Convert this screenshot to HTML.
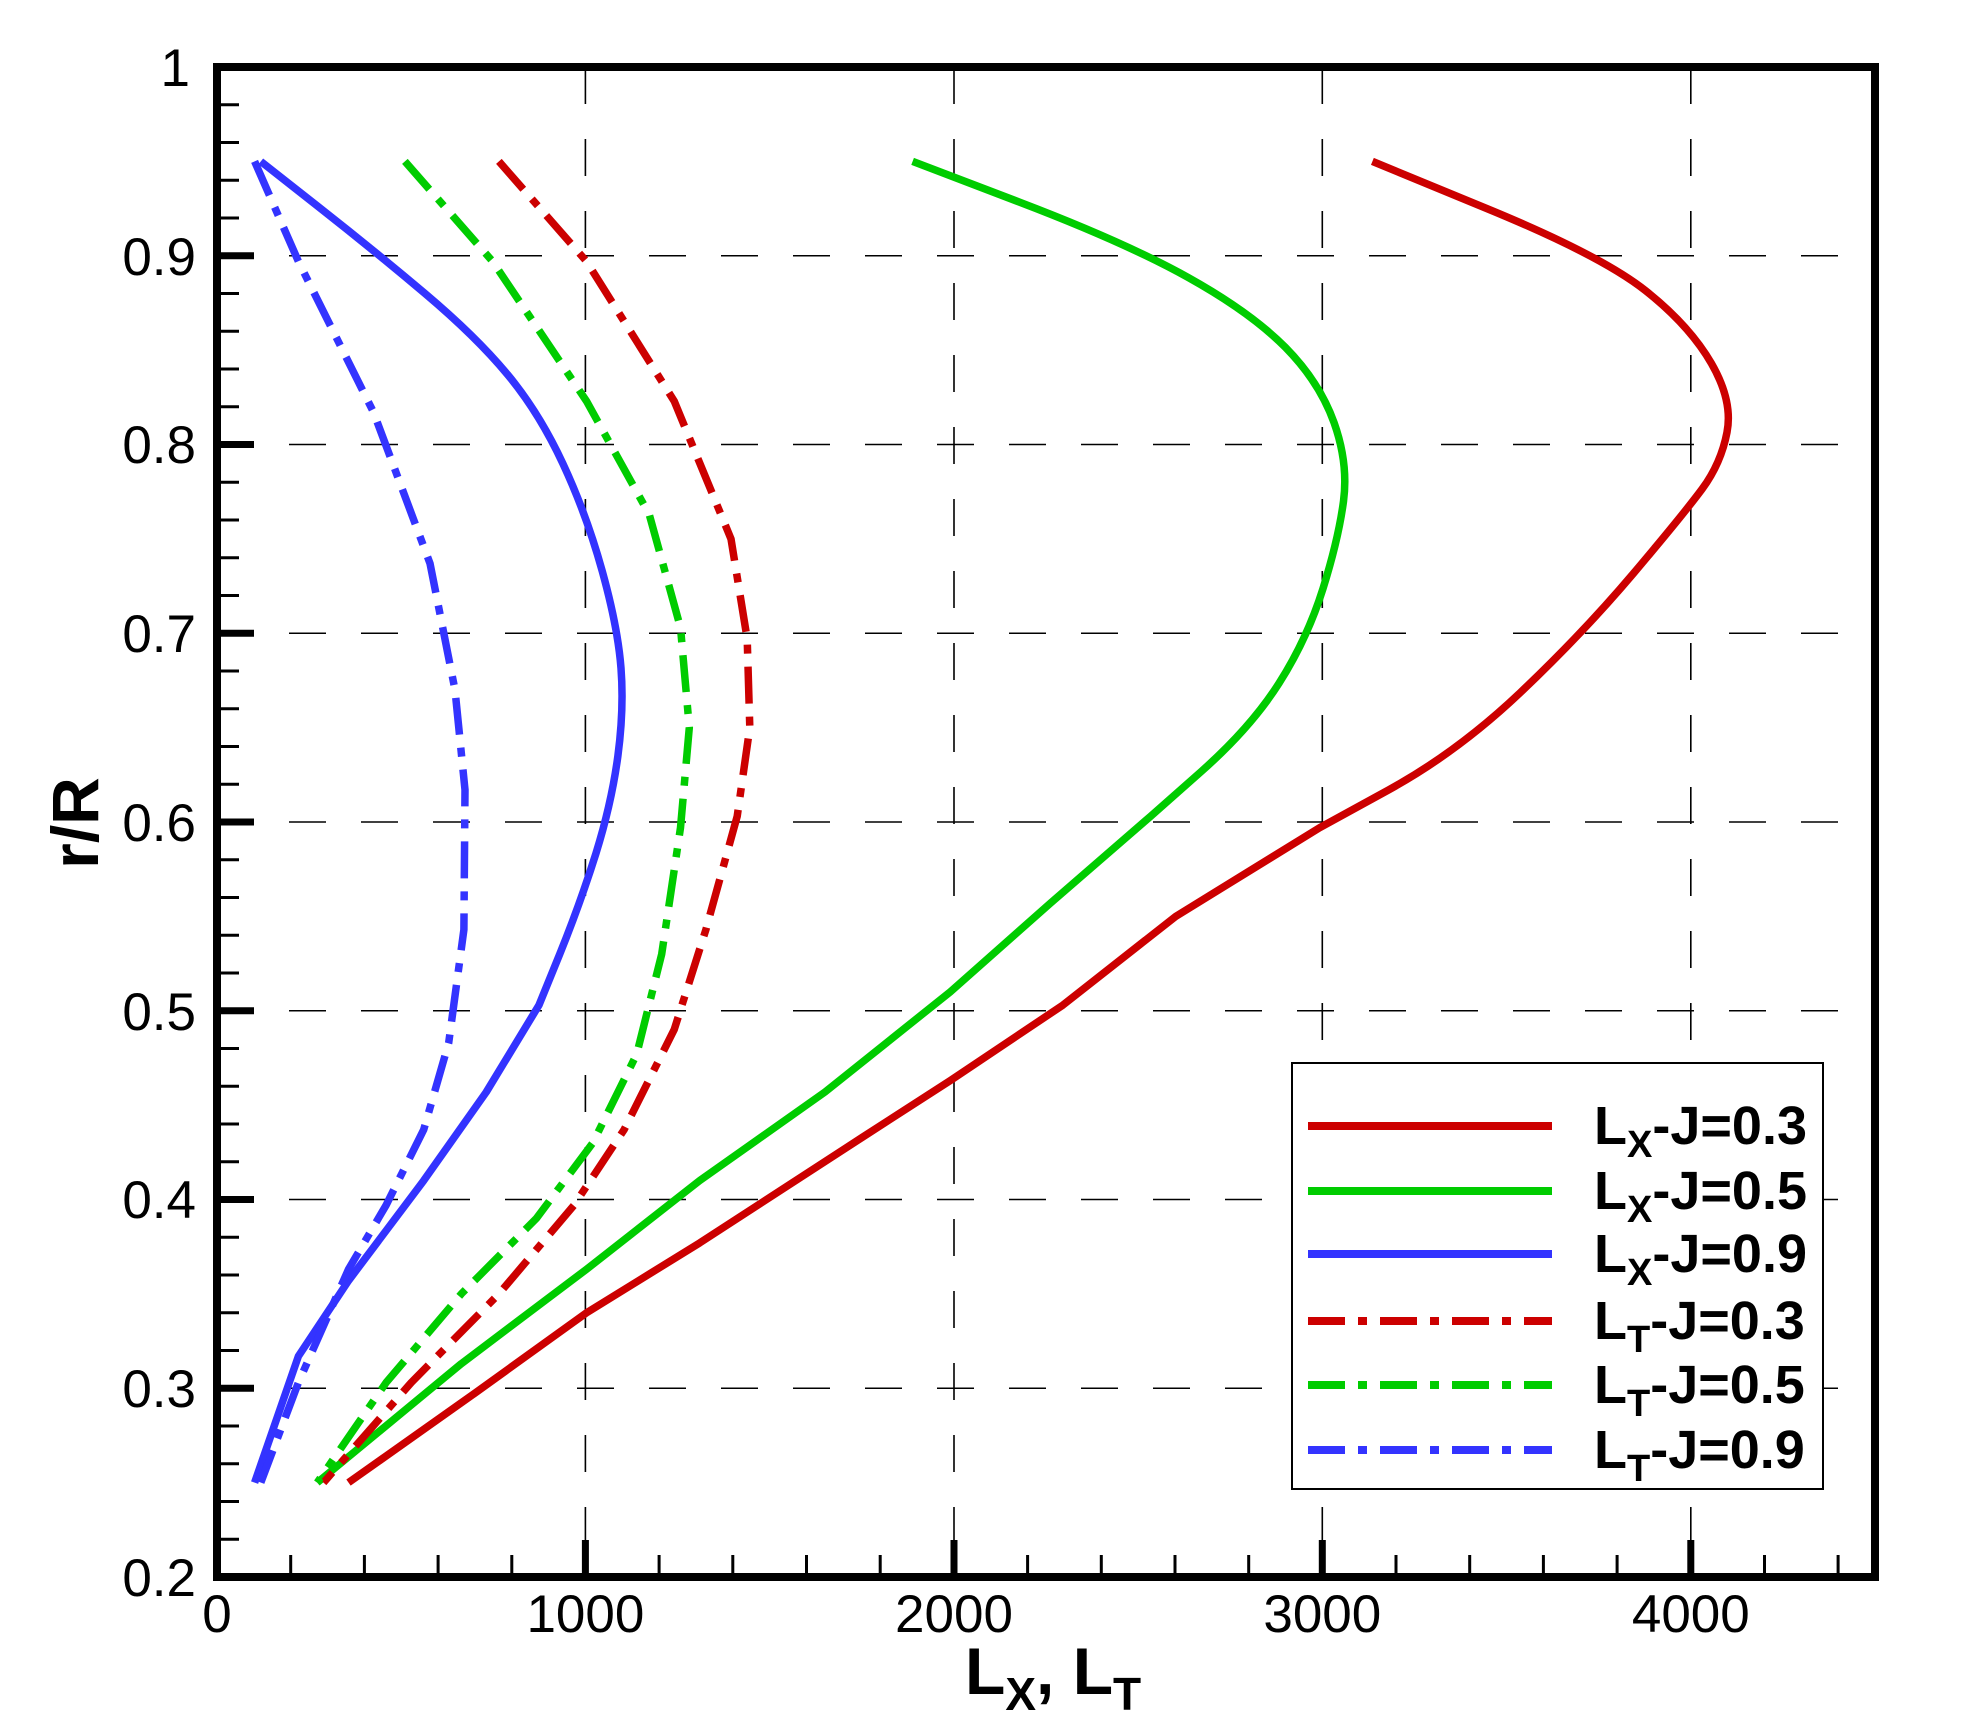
<!DOCTYPE html>
<html><head><meta charset="utf-8"><style>
html,body{margin:0;padding:0;background:#fff;}
svg{display:block;font-family:"Liberation Sans",Arial,sans-serif;}
</style></head><body>
<svg width="1964" height="1725" viewBox="0 0 1964 1725" xmlns="http://www.w3.org/2000/svg">
<rect width="1964" height="1725" fill="#fff"/>
<!-- grid -->
<g stroke="#000" stroke-width="1.6" stroke-dasharray="37 35" fill="none">
<line x1="585.4" y1="67" x2="585.4" y2="1577"/>
<line x1="954" y1="67" x2="954" y2="1577"/>
<line x1="1322.3" y1="67" x2="1322.3" y2="1577"/>
<line x1="1690.8" y1="67" x2="1690.8" y2="1577"/>
<line x1="217" y1="1388.25" x2="1875" y2="1388.25"/>
<line x1="217" y1="1199.5" x2="1875" y2="1199.5"/>
<line x1="217" y1="1010.75" x2="1875" y2="1010.75"/>
<line x1="217" y1="822" x2="1875" y2="822"/>
<line x1="217" y1="633.25" x2="1875" y2="633.25"/>
<line x1="217" y1="444.5" x2="1875" y2="444.5"/>
<line x1="217" y1="255.75" x2="1875" y2="255.75"/>
</g>
<!-- curves -->
<g fill="none" stroke-width="7.5" stroke-linejoin="round">
<path stroke="#cc0000" d="M1372.4,161.4 L1487,208.6 Q1601.6,255.75 1645.6,290.7 Q1689.6,325.6 1711.4,363.4 Q1733.1,401.1 1727,432.3 Q1721,463.4 1702.2,488.9 Q1683.4,514.3 1633.1,573.8 Q1582.8,633.25 1520.2,692.7 Q1457.5,752.1 1388.6,789.9 L1319.7,827.7 1175.7,916.4 1062.9,1005.1 950.2,1080.6 862.5,1137.2 699.7,1242.9 586.5,1312.8 473.8,1393.9 348.5,1482.6"/>
<path stroke="#00cc00" d="M912.6,161.4 L1019.1,202 Q1125.6,242.6 1188.2,277.5 Q1250.8,312.4 1285.3,347.3 Q1319.7,382.2 1334.1,422.8 Q1348.5,463.4 1343.5,501.2 Q1338.5,538.9 1322.9,588.9 Q1307.2,638.9 1279,683.3 Q1250.8,727.6 1200.7,772 L1150.6,816.3 1050.4,903.2 950.2,991.9 825,1092 699.7,1180.6 586.5,1269.3 461.3,1363.7 317.2,1482.6"/>
<path stroke="#3333ff" d="M260.8,161.4 L317.2,205.8 Q373.6,250.1 425,293.5 Q476.4,336.9 507.7,374.7 Q539,412.4 562.8,463.4 Q586.5,514.3 602.2,571 Q617.9,627.6 621,668.2 Q624.1,708.75 617.9,755.9 Q611.6,803.1 596,853.2 Q580.3,903.2 559.7,954.2 L539,1005.1 486.3,1092 423.7,1180.6 348.5,1280.7 298.4,1356.2 254.6,1482.6"/>
<polyline stroke="#cc0000" stroke-dasharray="37 13 9 13" points="498.9,161.4 586.5,261.4 674.2,401.1 731,538.9 747.2,638.9 749.8,727.6 737.2,816.3 705.9,929.6 674.2,1029.6 624.1,1129.7 574,1205.2 498.9,1293.9 411.2,1382.6 323.5,1482.6"/>
<polyline stroke="#00cc00" stroke-dasharray="37 13 9 13" points="404.9,161.4 492.6,261.4 586.5,401.1 649.2,514.3 680.5,627.6 689.3,727.6 680.5,827.7 661.7,954.1 636.7,1054.2 592.8,1142.9 536.4,1218.4 461.3,1293.9 386.1,1382.6 317.2,1482.6"/>
<polyline stroke="#3333ff" stroke-dasharray="37 13 9 13" points="254.6,161.4 298.4,261.4 373.6,412.4 430,563.4 455,689.9 465,789.9 463.9,929.6 448.7,1042.8 423.7,1129.7 386.1,1205.2 348.5,1269.3 298.4,1382.6 260.8,1482.6"/>
</g>
<!-- ticks -->
<path stroke="#000" stroke-width="3" fill="none" d="
M217 1539.25h22M217 1501.5h22M217 1463.75h22M217 1426h22
M217 1350.5h22M217 1312.75h22M217 1275h22M217 1237.25h22
M217 1161.75h22M217 1124h22M217 1086.25h22M217 1048.5h22
M217 973h22M217 935.25h22M217 897.5h22M217 859.75h22
M217 784.25h22M217 746.5h22M217 708.75h22M217 671h22
M217 595.5h22M217 557.75h22M217 520h22M217 482.25h22
M217 406.75h22M217 369h22M217 331.25h22M217 293.5h22
M217 218h22M217 180.25h22M217 142.5h22M217 104.75h22
M290.7 1577v-22M364.4 1577v-22M438.1 1577v-22M511.8 1577v-22
M659.1 1577v-22M732.8 1577v-22M806.5 1577v-22M880.2 1577v-22
M1027.6 1577v-22M1101.3 1577v-22M1175 1577v-22M1248.7 1577v-22
M1396 1577v-22M1469.7 1577v-22M1543.4 1577v-22M1617.1 1577v-22
M1764.5 1577v-22M1838.1 1577v-22"/>
<path stroke="#000" stroke-width="7" fill="none" d="
M217 1388.25h37M217 1199.5h37M217 1010.75h37M217 822h37M217 633.25h37M217 444.5h37M217 255.75h37
M585.4 1577v-37M954 1577v-37M1322.3 1577v-37M1690.8 1577v-37"/>
<rect x="217" y="67" width="1658" height="1510" fill="none" stroke="#000" stroke-width="8"/>
<!-- tick labels -->
<g font-size="53" fill="#000" text-anchor="end">
<text x="196" y="1596">0.2</text>
<text x="196" y="1407">0.3</text>
<text x="196" y="1218">0.4</text>
<text x="196" y="1030">0.5</text>
<text x="196" y="841">0.6</text>
<text x="196" y="652">0.7</text>
<text x="196" y="463">0.8</text>
<text x="196" y="275">0.9</text>
<text x="190" y="86">1</text>
</g>
<g font-size="53" fill="#000" text-anchor="middle">
<text x="217" y="1632">0</text>
<text x="585.4" y="1632">1000</text>
<text x="954" y="1632">2000</text>
<text x="1322.3" y="1632">3000</text>
<text x="1690.8" y="1632">4000</text>
</g>
<!-- legend -->
<rect x="1292" y="1063" width="531" height="426" fill="#fff" stroke="#000" stroke-width="2"/>
<g stroke-width="8">
<line x1="1308" y1="1126" x2="1552" y2="1126" stroke="#cc0000"/>
<line x1="1308" y1="1191" x2="1552" y2="1191" stroke="#00cc00"/>
<line x1="1308" y1="1254" x2="1552" y2="1254" stroke="#3333ff"/>
<line x1="1308" y1="1321" x2="1552" y2="1321" stroke="#cc0000" stroke-dasharray="37 13 9 13"/>
<line x1="1308" y1="1385" x2="1552" y2="1385" stroke="#00cc00" stroke-dasharray="37 13 9 13"/>
<line x1="1308" y1="1450" x2="1552" y2="1450" stroke="#3333ff" stroke-dasharray="37 13 9 13"/>
</g>
<g font-size="54" font-weight="bold" fill="#000">
<text x="1594" y="1144">L<tspan font-size="38" dy="13">X</tspan><tspan dy="-13">-J=0.3</tspan></text>
<text x="1594" y="1209">L<tspan font-size="38" dy="13">X</tspan><tspan dy="-13">-J=0.5</tspan></text>
<text x="1594" y="1272">L<tspan font-size="38" dy="13">X</tspan><tspan dy="-13">-J=0.9</tspan></text>
<text x="1594" y="1339">L<tspan font-size="38" dy="13">T</tspan><tspan dy="-13">-J=0.3</tspan></text>
<text x="1594" y="1403">L<tspan font-size="38" dy="13">T</tspan><tspan dy="-13">-J=0.5</tspan></text>
<text x="1594" y="1468">L<tspan font-size="38" dy="13">T</tspan><tspan dy="-13">-J=0.9</tspan></text>
</g>
<!-- axis titles -->
<text x="965" y="1694" font-size="66" font-weight="bold">L<tspan font-size="46" dy="16">X</tspan><tspan dy="-16">, L</tspan><tspan font-size="46" dy="16">T</tspan></text>
<text transform="translate(98,823) rotate(-90)" text-anchor="middle" font-size="66" font-weight="bold">r/R</text>
</svg>
</body></html>
